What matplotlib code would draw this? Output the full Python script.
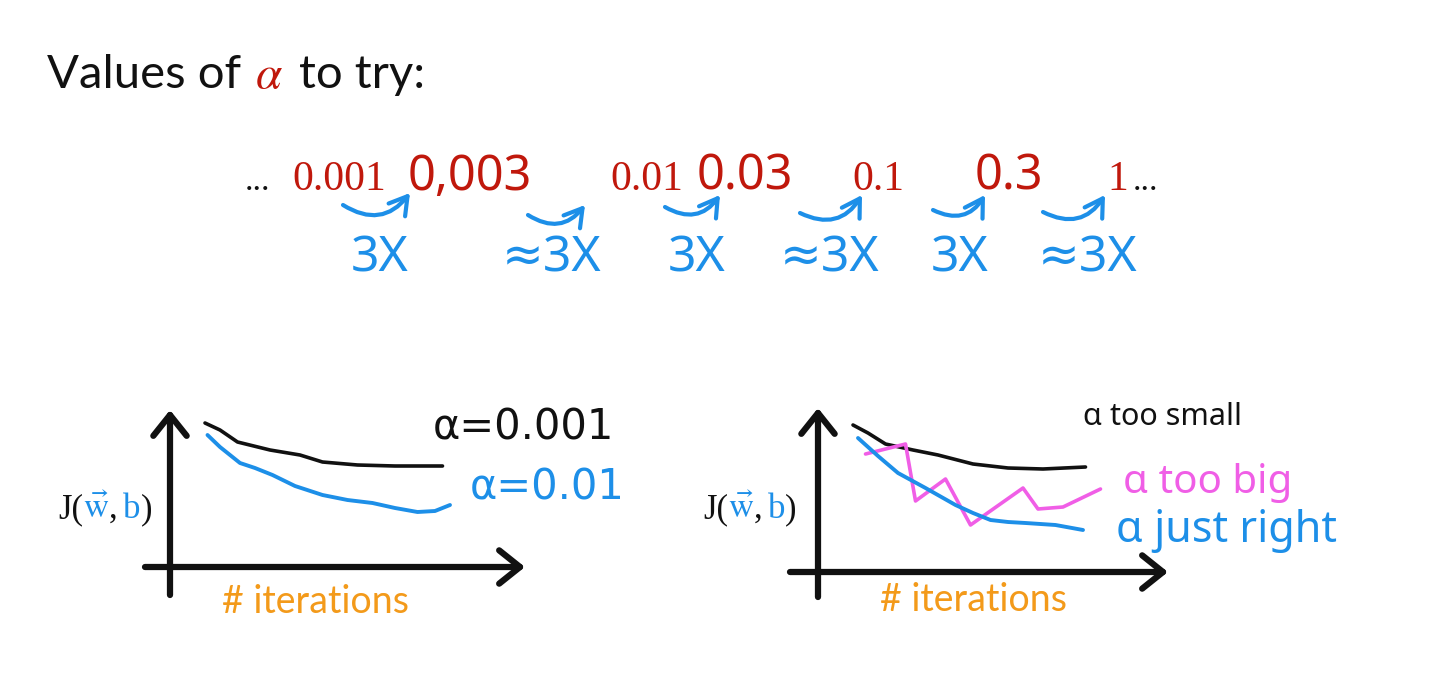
import matplotlib
matplotlib.use('Agg')
import matplotlib.pyplot as plt

plt.rcParams['font.family'] = ['Lato', 'DejaVu Sans']
plt.rcParams['mathtext.fontset'] = 'stix'

W, H = 1438, 674
RED = '#c0180c'
BLUE = '#1d8fe8'
PINK = '#f05ee6'
ORANGE = '#f39a1a'
BLACK = '#111111'
HAND = ['Noto Sans', 'DejaVu Sans']

# 学习率候选值与相邻倍数
alpha_values = ['0.001', '0,003', '0.01', '0.03', '0.1', '0.3', '1']
is_handwritten = [False, True, False, True, False, True, False]
step_labels = ['3X', '≈3X', '3X', '≈3X', '3X', '≈3X']

# 左图：两条代价曲线 (迭代次数, J)
left_small_x = [1.4, 2.0, 2.7, 4.0, 5.2, 6.1, 7.5, 9.0, 10.9]
left_small_y = [7.2, 6.85, 6.25, 5.85, 5.6, 5.25, 5.1, 5.05, 5.05]
left_mid_x = [1.5, 2.0, 2.8, 3.4, 4.1, 5.0, 6.1, 7.1, 8.1, 9.0, 9.9, 10.6, 11.2]
left_mid_y = [6.6, 6.0, 5.2, 4.95, 4.6, 4.05, 3.6, 3.35, 3.2, 2.95, 2.75, 2.8, 3.1]

# 右图：太小 / 太大 / 刚好
right_small_x = [1.4, 2.0, 2.7, 3.8, 4.8, 6.2, 7.6, 9.0, 10.7]
right_small_y = [7.35, 6.95, 6.4, 6.1, 5.85, 5.4, 5.2, 5.15, 5.25]
right_big_x = [1.9, 3.5, 3.9, 5.1, 6.1, 8.2, 8.8, 9.8, 11.3]
right_big_y = [5.9, 6.4, 3.55, 4.65, 2.35, 4.2, 3.15, 3.25, 4.15]
right_good_x = [1.6, 2.4, 3.2, 4.3, 5.5, 6.2, 6.9, 7.6, 8.3, 9.5, 10.6]
right_good_y = [6.7, 5.8, 4.95, 4.2, 3.35, 2.95, 2.6, 2.5, 2.45, 2.35, 2.1]

fig = plt.figure(figsize=(W / 100, H / 100), dpi=100)
fig.patch.set_facecolor('white')
bg = fig.add_axes([0, 0, 1, 1])
bg.set_xlim(0, W)
bg.set_ylim(H, 0)
bg.axis('off')
renderer = fig.canvas.get_renderer()


def put_pieces(x, y, pieces, **kw):
    # 逐段写文字，每段颜色不同，接在上一段后面
    for s, c, gap in pieces:
        t = bg.text(x, y, s, color=c, va='baseline', ha='left', **kw)
        bb = t.get_window_extent(renderer=renderer)
        x = bg.transData.inverted().transform((bb.x1, bb.y0))[0] + gap


# 标题
put_pieces(47, 88, [('Values of', BLACK, 14), (r'$\alpha$', RED, 16), ('to try:', BLACK, 0)],
           fontsize=34)

# 数值行
num_x = [292, 408, 610, 697, 852, 975, 1107]
bg.text(245, 190, '...', fontsize=24, color=BLACK, family='Liberation Serif', va='baseline')
for s, hw, x in zip(alpha_values, is_handwritten, num_x):
    if hw:
        bg.text(x, 190, s, fontsize=35, color=RED, family=HAND, va='baseline')
    else:
        bg.text(x, 190, s, fontsize=30, color=RED, family='Liberation Serif', va='baseline')
bg.text(1133, 190, '...', fontsize=24, color=BLACK, family='Liberation Serif', va='baseline')

# 弯箭头和倍数
arrow_from = [(343, 205), (528, 215), (665, 207), (800, 213), (933, 210), (1043, 212)]
arrow_to = [(410, 193), (585, 205), (720, 195), (862, 195), (985, 195), (1105, 195)]
label_x = [380, 552, 697, 830, 960, 1088]
for a, b, s, lx in zip(arrow_from, arrow_to, step_labels, label_x):
    bg.annotate('', xy=b, xytext=a,
                arrowprops=dict(arrowstyle='->,head_length=0.5,head_width=0.3',
                                connectionstyle='arc3,rad=0.45', color=BLUE, lw=3,
                                mutation_scale=25, shrinkA=0, shrinkB=0))
    bg.text(lx, 272, s, fontsize=36, color=BLUE, family=HAND, ha='center', va='baseline')


def cost_axes(rect, x0, y0):
    # rect: 像素框 (左, 上, 右, 下)；x0, y0: 原点像素位置
    l, t, r, btm = rect
    ax = fig.add_axes([l / W, 1 - btm / H, (r - l) / W, (btm - t) / H])
    ax.set_xlim((l - x0) / 25, (r - x0) / 25)
    ax.set_ylim((y0 - btm) / 20, (y0 - t) / 20)
    ax.axis('off')
    head = dict(arrowstyle='->,head_length=0.5,head_width=0.4', color=BLACK, lw=4.5,
                mutation_scale=30, shrinkA=0, shrinkB=0, capstyle='round')
    ax.annotate('', xy=(0, (y0 - t - 3) / 20), xytext=(0, (y0 - btm + 5) / 20), arrowprops=head)
    ax.annotate('', xy=((r - x0 - 6) / 25, 0), xytext=((l - x0) / 25, 0), arrowprops=head)
    return ax


ax1 = cost_axes((145, 407, 531, 600), 170, 567)
ax1.plot(left_small_x, left_small_y, color=BLACK, lw=2.6, solid_capstyle='round')
ax1.plot(left_mid_x, left_mid_y, color=BLUE, lw=2.8, solid_capstyle='round')

ax2 = cost_axes((790, 405, 1174, 602), 818, 572)
ax2.plot(right_small_x, right_small_y, color=BLACK, lw=2.6, solid_capstyle='round')
ax2.plot(right_big_x, right_big_y, color=PINK, lw=2.6, solid_capstyle='round')
ax2.plot(right_good_x, right_good_y, color=BLUE, lw=2.8, solid_capstyle='round')

# 纵轴标签 J(w,b)
for jx in [58, 703]:
    put_pieces(jx, 518, [('J(', BLACK, 0), (r'$\vec{\mathrm{w}}$', BLUE, 0), (',', BLACK, 5),
                         ('b', BLUE, 0), (')', BLACK, 0)],
               fontsize=25, family='Liberation Serif')

# 横轴标签
bg.text(222, 613, '# iterations', fontsize=27, color=ORANGE, va='baseline')
bg.text(880, 611, '# iterations', fontsize=27, color=ORANGE, va='baseline')

# 曲线注释
bg.text(433, 440, 'α=0.001', fontsize=30, color=BLACK, family=['DejaVu Sans'], va='baseline')
bg.text(470, 500, 'α=0.01', fontsize=30, color=BLUE, family=['DejaVu Sans'], va='baseline')
bg.text(1083, 425, 'α too small', fontsize=22, color=BLACK, family=HAND, va='baseline')
bg.text(1123, 493, 'α too big', fontsize=29, color=PINK, family=HAND, va='baseline')
bg.text(1116, 542, 'α just right', fontsize=31, color=BLUE, family=HAND, va='baseline')

fig.savefig('out.png', dpi=100, facecolor='white')
